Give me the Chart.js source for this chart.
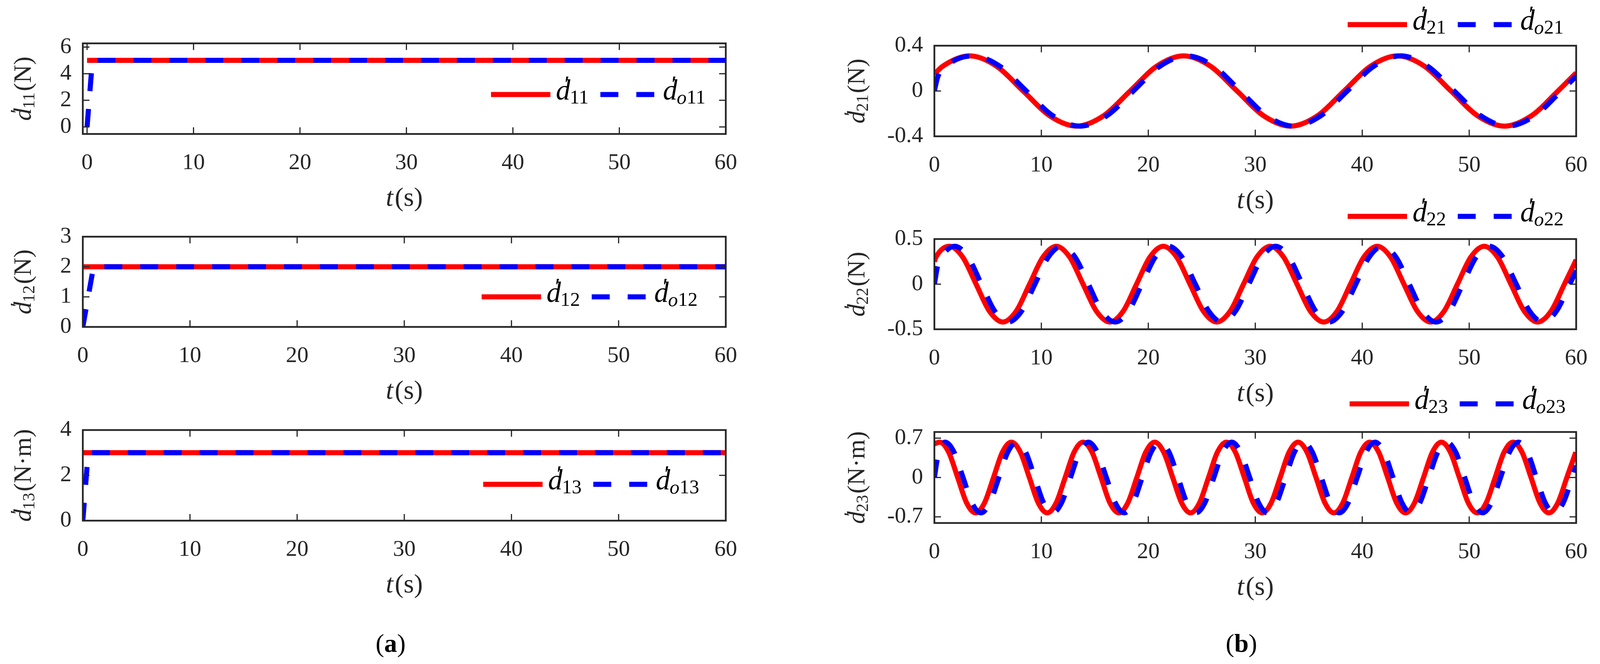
<!DOCTYPE html>
<html><head><meta charset="utf-8">
<script src="https://cdn.jsdelivr.net/npm/chart.js@4.4.1/dist/chart.umd.min.js"></script>
<style>
html,body{margin:0;padding:0;background:#fff;width:4104px;height:1700px;overflow:hidden}
canvas{position:absolute;left:0;top:0}
.cap{position:absolute;font-family:"Liberation Serif";font-size:66px;color:#000;transform:translate(-50%,-50%)}
</style></head><body>
<canvas id="c11" width="4104" height="1700"></canvas>
<canvas id="c12" width="4104" height="1700"></canvas>
<canvas id="c13" width="4104" height="1700"></canvas>
<canvas id="c21" width="4104" height="1700"></canvas>
<canvas id="c22" width="4104" height="1700"></canvas>
<canvas id="c23" width="4104" height="1700"></canvas>
<div class="cap" style="left:1000px;top:1647px">(<b>a</b>)</div>
<div class="cap" style="left:3178px;top:1647px">(<b>b</b>)</div>
<script>
// ---- data ----
const xTicks = [0,10,20,30,40,50,60];
const yTicks11 = [0,2,4,6], yTicks12 = [0,1,2,3], yTicks13 = [0,2,4];
const yTicks21 = [-0.4,0,0.4], yTicks22 = [-0.5,0,0.5], yTicks23 = [-0.7,0,0.7];

const t11 = [0,60], d11 = [5,5];
const to11 = [0,0.5,60], do11 = [0,5,5];
const t12 = [0,60], d12 = [2,2];
const to12 = [0,1,60], do12 = [0,2,2];
const t13 = [0,60], d13 = [3,3];
const to13 = [0,0.5,60], do13 = [0,3,3];

const t21 = [0,0.8,3.3,5.8,8.3,10.8,13.3,15.8,18.3,20.8,23.3,25.8,28.3,30.8,33.3,35.8,38.3,40.8,43.3,45.8,48.3,50.8,53.3,55.8,58.3,60];
const d21 = [0.15,0.22,0.31,0.22,0,-0.22,-0.31,-0.22,0,0.22,0.31,0.22,0,-0.22,-0.31,-0.22,0,0.22,0.31,0.22,0,-0.22,-0.31,-0.22,0,0.16];
const to21 = [0,0.3,1.1,3.6,6.1,8.6,11.1,13.6,16.1,18.6,21.1,23.6,26.1,28.6,31.1,33.6,36.1,38.6,41.1,43.6,46.1,48.6,51.1,53.6,56.1,58.6,60];
const do21 = [0,0.12,0.22,0.31,0.22,0,-0.22,-0.31,-0.22,0,0.22,0.31,0.22,0,-0.22,-0.31,-0.22,0,0.22,0.31,0.22,0,-0.22,-0.31,-0.22,0,0.13];

const t22 = [0,0.15,1.4,2.65,3.9,5.15,6.4,7.65,8.9,10.15,11.4,12.65,13.9,15.15,16.4,17.65,18.9,20.15,21.4,22.65,23.9,25.15,26.4,27.65,28.9,30.15,31.4,32.65,33.9,35.15,36.4,37.65,38.9,40.15,41.4,42.65,43.9,45.15,46.4,47.65,48.9,50.15,51.4,52.65,53.9,55.15,56.4,57.65,58.9,60];
const d22 = [0.25,0.30,0.42,0.30,0,-0.30,-0.42,-0.30,0,0.30,0.42,0.30,0,-0.30,-0.42,-0.30,0,0.30,0.42,0.30,0,-0.30,-0.42,-0.30,0,0.30,0.42,0.30,0,-0.30,-0.42,-0.30,0,0.30,0.42,0.30,0,-0.30,-0.42,-0.30,0,0.30,0.42,0.30,0,-0.30,-0.42,-0.30,0,0.27];
const to22 = [0,0.3,0.65,1.9,3.15,4.4,5.65,6.9,8.15,9.4,10.65,11.9,13.15,14.4,15.65,16.9,18.15,19.4,20.65,21.9,23.15,24.4,25.65,26.9,28.15,29.4,30.65,31.9,33.15,34.4,35.65,36.9,38.15,39.4,40.65,41.9,43.15,44.4,45.65,46.9,48.15,49.4,50.65,51.9,53.15,54.4,55.65,56.9,58.15,59.4,60];
const do22 = [0,0.2,0.30,0.42,0.30,0,-0.30,-0.42,-0.30,0,0.30,0.42,0.30,0,-0.30,-0.42,-0.30,0,0.30,0.42,0.30,0,-0.30,-0.42,-0.30,0,0.30,0.42,0.30,0,-0.30,-0.42,-0.30,0,0.30,0.42,0.30,0,-0.30,-0.42,-0.30,0,0.30,0.42,0.30,0,-0.30,-0.42,-0.30,0,0.15];

const t23 = [0,0.5,1.34,2.18,3.01,3.85,4.69,5.53,6.36,7.2,8.04,8.88,9.71,10.55,11.39,12.23,13.06,13.9,14.74,15.58,16.41,17.25,18.09,18.93,19.76,20.6,21.44,22.28,23.11,23.95,24.79,25.63,26.46,27.3,28.14,28.98,29.81,30.65,31.49,32.33,33.16,34.0,34.84,35.68,36.51,37.35,38.19,39.03,39.86,40.7,41.54,42.38,43.21,44.05,44.89,45.73,46.56,47.4,48.24,49.08,49.91,50.75,51.59,52.43,53.26,54.1,54.94,55.78,56.61,57.45,58.29,59.13,59.96];
const d23 = [0.6,0.63,0.45,0,-0.45,-0.63,-0.45,0,0.45,0.63,0.45,0,-0.45,-0.63,-0.45,0,0.45,0.63,0.45,0,-0.45,-0.63,-0.45,0,0.45,0.63,0.45,0,-0.45,-0.63,-0.45,0,0.45,0.63,0.45,0,-0.45,-0.63,-0.45,0,0.45,0.63,0.45,0,-0.45,-0.63,-0.45,0,0.45,0.63,0.45,0,-0.45,-0.63,-0.45,0,0.45,0.63,0.45,0,-0.45,-0.63,-0.45,0,0.45,0.63,0.45,0,-0.45,-0.63,-0.45,0,0.45];
const to23 = [0,0.3,1.0,1.84,2.68,3.51,4.35,5.19,6.03,6.86,7.7,8.54,9.38,10.21,11.05,11.89,12.73,13.56,14.4,15.24,16.08,16.91,17.75,18.59,19.43,20.26,21.1,21.94,22.78,23.61,24.45,25.29,26.13,26.96,27.8,28.64,29.48,30.31,31.15,31.99,32.83,33.66,34.5,35.34,36.18,37.01,37.85,38.69,39.53,40.36,41.2,42.04,42.88,43.71,44.55,45.39,46.23,47.06,47.9,48.74,49.58,50.41,51.25,52.09,52.93,53.76,54.6,55.44,56.28,57.11,57.95,58.79,59.63,60];
const do23 = [0,0.35,0.63,0.45,0,-0.45,-0.63,-0.45,0,0.45,0.63,0.45,0,-0.45,-0.63,-0.45,0,0.45,0.63,0.45,0,-0.45,-0.63,-0.45,0,0.45,0.63,0.45,0,-0.45,-0.63,-0.45,0,0.45,0.63,0.45,0,-0.45,-0.63,-0.45,0,0.45,0.63,0.45,0,-0.45,-0.63,-0.45,0,0.45,0.63,0.45,0,-0.45,-0.63,-0.45,0,0.45,0.63,0.45,0,-0.45,-0.63,-0.45,0,0.45,0.63,0.45,0,-0.45,-0.63,-0.45,0,0.21];

// ---- rendering ----
const INK = '#262626', SERIF = '"Liberation Serif"';
const W = 4104, H = 1700, YW = 150, XH = 120;
const pts = (t, v) => t.map((x, i) => ({x, y: v[i]}));

function richWidth(ctx, segs){ let w=0; for(const s of segs){ ctx.font=s.f; if(!s.na) w+=ctx.measureText(s.t).width + (s.dx||0);} return w; }
function drawRich(ctx, x, y, segs){
  let cx = x;
  for(const s of segs){ ctx.font = s.f; ctx.fillText(s.t, cx + (s.ox||0), y + (s.dy||0)); if(!s.na) cx += ctx.measureText(s.t).width + (s.dx||0); }
}
function dSegs(sub, size, unit){
  const sub_ = size*0.68;
  const segs = [
    {t:'′', f:`${size*0.8}px ${SERIF}`, dy:-size*0.22, ox:size*0.3, na:true},
    {t:'d', f:`italic ${size}px ${SERIF}`, dx:-size*0.02},
  ];
  for (const part of sub) segs.push({t:part.t, f:`${part.i?'italic ':''}${sub_}px ${SERIF}`, dy:size*0.22});
  if (unit) segs.push({t:unit, f:`${size}px ${SERIF}`, ox:size*0.05, dx:size*0.05});
  return segs;
}

function panel(id, area, o){
  const padding = {left: area.l - YW, top: area.t, right: W - area.r, bottom: H - area.b - XH};
  const deco = {
    id:'deco'+id,
    afterDraw(chart){
      const ctx = chart.ctx, ca = chart.chartArea, xs = chart.scales.x, ys = chart.scales.y;
      ctx.save();
      ctx.strokeStyle = INK; ctx.fillStyle = INK;
      ctx.lineWidth = 3;
      for (const tk of xs.ticks){ const px = xs.getPixelForValue(tk.value);
        ctx.beginPath(); ctx.moveTo(px, ca.bottom); ctx.lineTo(px, ca.bottom-17); ctx.moveTo(px, ca.top); ctx.lineTo(px, ca.top+17); ctx.stroke(); }
      for (const tk of ys.ticks){ const py = ys.getPixelForValue(tk.value);
        ctx.beginPath(); ctx.moveTo(ca.left, py); ctx.lineTo(ca.left+17, py); ctx.moveTo(ca.right, py); ctx.lineTo(ca.right-17, py); ctx.stroke(); }
      ctx.lineWidth = 4.5;
      ctx.strokeRect(ca.left, ca.top, ca.right-ca.left, ca.bottom-ca.top);
      ctx.textBaseline = 'middle';
      const xt = [{t:'t', f:`italic 68px ${SERIF}`, dx:4},{t:'(s)', f:`68px ${SERIF}`}];
      drawRich(ctx, (ca.left+ca.right)/2 - richWidth(ctx, xt)/2, ca.bottom + 166, xt);
      const yt = dSegs(o.sub, 64, o.unit);
      ctx.save(); ctx.translate(o.ylx, (ca.top+ca.bottom)/2); ctx.rotate(-Math.PI/2);
      drawRich(ctx, -richWidth(ctx, yt)/2, 0, yt); ctx.restore();
      const lx = o.leg[0], ly = o.leg[1];
      ctx.lineCap = 'butt'; ctx.lineWidth = 13;
      ctx.strokeStyle = '#ff0000'; ctx.beginPath(); ctx.moveTo(lx, ly); ctx.lineTo(lx+152, ly); ctx.stroke();
      ctx.fillStyle = '#000';
      const s1 = dSegs(o.sub, 74, null);
      drawRich(ctx, lx+166, ly-6, s1);
      const bx = lx + 166 + richWidth(ctx, s1) + 30;
      ctx.strokeStyle = '#0000ff'; ctx.setLineDash([46,46]); ctx.beginPath(); ctx.moveTo(bx, ly); ctx.lineTo(bx+138, ly); ctx.stroke(); ctx.setLineDash([]);
      drawRich(ctx, bx+160, ly-6, dSegs([{t:'o',i:true}].concat(o.sub), 74, null));
      ctx.restore();
    }
  };
  new Chart(document.getElementById(id), {
    type:'line',
    data:{datasets:[
      {data:pts(o.t, o.v), order:1, borderColor:'#ff0000', borderWidth:13, pointRadius:0, borderCapStyle:'butt', cubicInterpolationMode: o.smooth?'monotone':'default', tension:0},
      {data:pts(o.to, o.vo), order:0, borderColor:'#0000ff', borderWidth:13, pointRadius:0, borderDash:[46,46], borderCapStyle:'butt', cubicInterpolationMode: o.smooth?'monotone':'default', tension:0}
    ]},
    options:{
      responsive:false, animation:false, devicePixelRatio:1,
      layout:{padding},
      plugins:{legend:{display:false}, tooltip:{enabled:false}},
      scales:{
        x:{type:'linear', min:o.xmin, max:60,
           afterBuildTicks(s){ s.ticks = xTicks.map(v=>({value:v})); },
           afterFit(s){ s.height = XH; },
           grid:{display:false, drawTicks:false}, border:{display:false},
           ticks:{padding:40, color:INK, font:{family:'Liberation Serif', size:58}, maxRotation:0, autoSkip:false}},
        y:{type:'linear', min:o.ymin, max:o.ymax,
           afterBuildTicks(s){ s.ticks = o.yt.map(v=>({value:v})); },
           afterFit(s){ s.width = YW; },
           grid:{display:false, drawTicks:false}, border:{display:false},
           ticks:{padding:29, color:INK, font:{family:'Liberation Serif', size:58}, autoSkip:false, callback:v=>String(v)}}
      }
    },
    plugins:[deco]
  });
}

panel('c11', {l:212,t:111,r:1858,b:343}, {xmin:-0.4, ymin:-0.53, ymax:6.28, yt:yTicks11, t:t11, v:d11, to:to11, vo:do11, sub:[{t:'11'}], unit:'(N)', ylx:62, leg:[1257,242]});
panel('c12', {l:212,t:606,r:1858,b:837}, {xmin:0, ymin:0, ymax:3, yt:yTicks12, t:t12, v:d12, to:to12, vo:do12, sub:[{t:'12'}], unit:'(N)', ylx:62, leg:[1233,760]});
panel('c13', {l:212,t:1101,r:1858,b:1333}, {xmin:0, ymin:0, ymax:4, yt:yTicks13, t:t13, v:d13, to:to13, vo:do13, sub:[{t:'13'}], unit:'(N·m)', ylx:62, leg:[1237,1240]});
panel('c21', {l:2392,t:117,r:4041,b:349}, {xmin:0, ymin:-0.4, ymax:0.4, yt:yTicks21, t:t21, v:d21, to:to21, vo:do21, sub:[{t:'21'}], unit:'(N)', ylx:2196, leg:[3450,63], smooth:true});
panel('c22', {l:2392,t:612,r:4041,b:843}, {xmin:0, ymin:-0.5, ymax:0.5, yt:yTicks22, t:t22, v:d22, to:to22, vo:do22, sub:[{t:'22'}], unit:'(N)', ylx:2196, leg:[3450,554], smooth:true});
panel('c23', {l:2392,t:1106,r:4041,b:1339}, {xmin:0, ymin:-0.81, ymax:0.81, yt:yTicks23, t:t23, v:d23, to:to23, vo:do23, sub:[{t:'23'}], unit:'(N·m)', ylx:2196, leg:[3455,1034], smooth:true});
</script>
</body></html>
